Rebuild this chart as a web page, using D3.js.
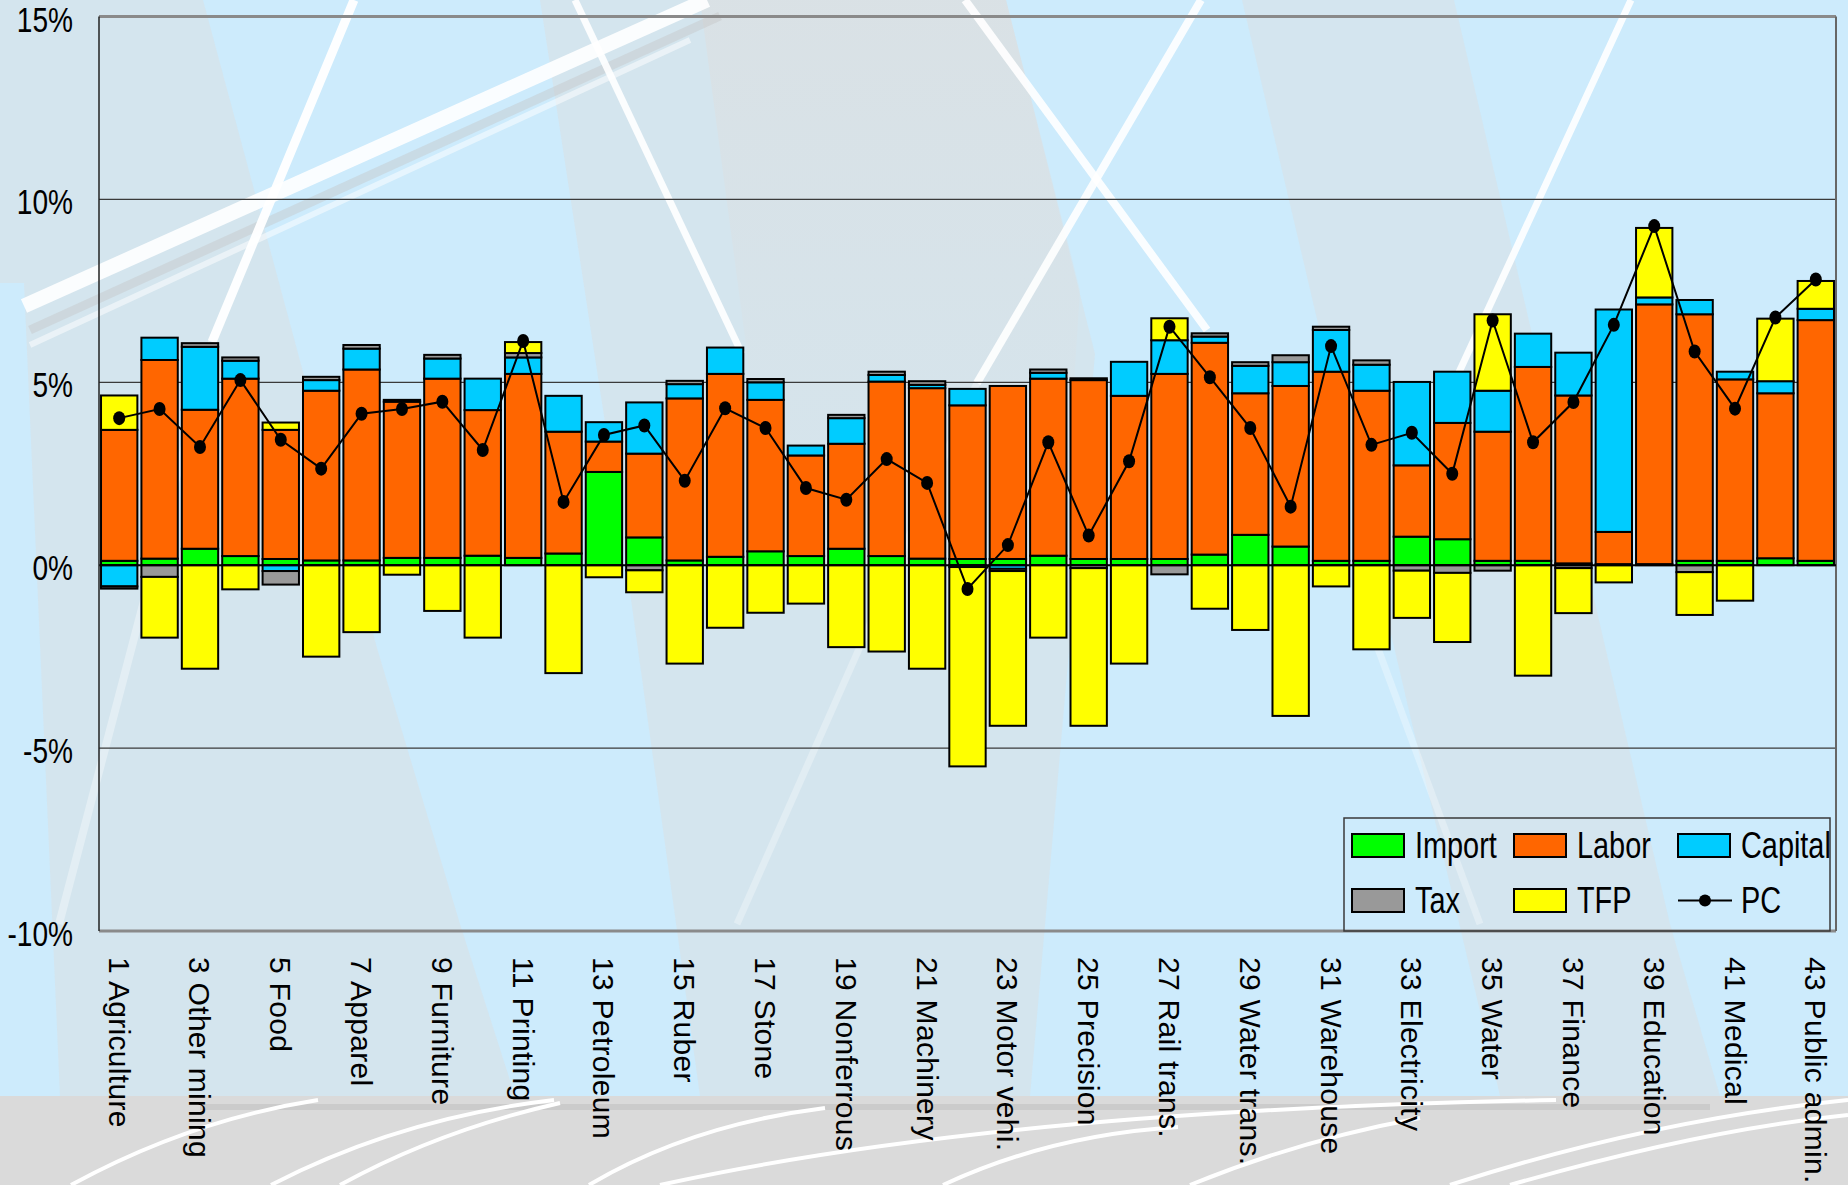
<!DOCTYPE html>
<html>
<head>
<meta charset="utf-8">
<script src="https://cdn.jsdelivr.net/npm/d3@7"></script>
<style>
  body { margin: 0; background: #cdebfc; }
  svg { display: block; }
</style>
</head>
<body>
<div id="chart"></div>
<script>
const width = 1848;
const height = 1185;
const plotLeft = 99;
const plotRight = 1836;
const plotTop = 16.5;
const plotBottom = 931;
const textFont = "'Liberation Sans', Arial, sans-serif";
const squeeze = 0.78; // the original uses a narrow face for axis and legend text

// industries 1..43, only the odd ones get a label
const sectors = [
  1, 2, 3, 4, 5, 6, 7, 8, 9, 10, 11, 12, 13, 14, 15, 16, 17, 18, 19, 20, 21, 22,
  23, 24, 25, 26, 27, 28, 29, 30, 31, 32, 33, 34, 35, 36, 37, 38, 39, 40, 41, 42, 43,
];
const tickSectors = [1, 3, 5, 7, 9, 11, 13, 15, 17, 19, 21, 23, 25, 27, 29, 31, 33, 35, 37, 39, 41, 43];
const tickLabels = [
  'Agriculture', 'Other mining', 'Food', 'Apparel', 'Furniture', 'Printing',
  'Petroleum', 'Ruber', 'Stone', 'Nonferrous', 'Machinery', 'Motor vehi.',
  'Precision', 'Rail trans.', 'Water trans.', 'Warehouse', 'Electricity',
  'Water', 'Finance', 'Education', 'Medical', 'Public admin.',
];

// contributions, % per year
const importValues = [
  0.12, 0.18, 0.45, 0.25, 0.17, 0.13, 0.13, 0.2, 0.2, 0.26, 0.2, 0.32, 2.55, 0.76,
  0.13, 0.23, 0.38, 0.25, 0.45, 0.25, 0.18, 0.17, 0.17, 0.26, 0.17, 0.17, 0.17, 0.29,
  0.83, 0.51, 0.12, 0.12, 0.78, 0.71, 0.12, 0.12, 0.05, 0.03, 0.03, 0.12, 0.12, 0.19, 0.12,
];
const laborValues = [
  3.58, 5.43, 3.8, 4.85, 3.53, 4.64, 5.22, 4.27, 4.9, 3.98, 5.03, 3.33, 0.83, 2.29,
  4.43, 5.0, 4.14, 2.75, 2.87, 4.77, 4.66, 4.2, 4.73, 4.84, 4.89, 4.46, 5.06, 5.79,
  3.87, 4.39, 5.17, 4.65, 1.95, 3.18, 3.53, 5.3, 4.59, 0.88, 7.1, 6.74, 4.96, 4.51, 6.58,
];
const capitalValues = [
  -0.58, 0.61, 1.72, 0.49, -0.16, 0.29, 0.57, 0, 0.55, 0.86, 0.45, 0.98, 0.53, 1.4,
  0.39, 0.72, 0.48, 0.27, 0.7, 0.18, 0.09, 0.45, -0.1, 0.16, 0.05, 0.93, 0.92, 0.17,
  0.75, 0.65, 1.14, 0.71, 2.28, 1.4, 1.12, 0.91, 1.17, 6.08, 0.19, 0.39, 0.21, 0.33, 0.31,
];
const taxValues = [
  -0.06, -0.32, 0.1, 0.09, -0.37, 0.09, 0.1, 0.05, 0.1, 0, 0.12, 0, 0, -0.14,
  0.09, 0, 0.09, 0, 0.09, 0.09, 0.1, -0.05, -0.06, 0.09, -0.08, 0, -0.25, 0.09,
  0.1, 0.19, 0.09, 0.12, -0.15, -0.21, -0.15, 0, -0.08, 0, 0, -0.19, 0, 0, 0,
];
const tfpValues = [
  0.94, -1.66, -2.83, -0.66, 0.2, -2.5, -1.83, -0.26, -1.25, -1.98, 0.3, -2.95, -0.33, -0.6,
  -2.69, -1.71, -1.3, -1.05, -2.24, -2.36, -2.83, -5.45, -4.23, -1.98, -4.31, -2.69, 0.6, -1.19,
  -1.77, -4.12, -0.58, -2.3, -1.29, -1.89, 2.09, -3.02, -1.23, -0.47, 1.9, -1.17, -0.97, 1.71, 0.76,
];
const pcValues = [
  4.02, 4.27, 3.23, 5.06, 3.43, 2.64, 4.14, 4.27, 4.47, 3.15, 6.13, 1.73, 3.56, 3.82,
  2.31, 4.29, 3.75, 2.11, 1.79, 2.9, 2.25, -0.65, 0.55, 3.36, 0.81, 2.84, 6.52, 5.14,
  3.75, 1.6, 5.99, 3.29, 3.62, 2.5, 6.69, 3.36, 4.46, 6.57, 9.27, 5.84, 4.28, 6.77, 7.81,
];

const keys = ['Import', 'Labor', 'Capital', 'Tax', 'TFP'];
const colors = ['#00ff00', '#ff6600', '#00ccff', '#999999', '#ffff00'];
const yTicks = [-10, -5, 0, 5, 10, 15];

const rows = sectors.map((s, i) => ({
  sector: s,
  Import: importValues[i],
  Labor: laborValues[i],
  Capital: capitalValues[i],
  Tax: taxValues[i],
  TFP: tfpValues[i],
  PC: pcValues[i],
}));

const svg = d3
  .select('#chart')
  .append('svg')
  .attr('width', width)
  .attr('height', height);

// Background decoration (slide template)
const defs = svg.append('defs');
const fadeDown = defs
  .append('linearGradient')
  .attr('id', 'fade-down')
  .attr('x1', '0%').attr('y1', '0%').attr('x2', '0%').attr('y2', '100%');
fadeDown.append('stop').attr('offset', '0%').attr('stop-color', '#dedede').attr('stop-opacity', 0.55);
fadeDown.append('stop').attr('offset', '100%').attr('stop-color', '#dedede').attr('stop-opacity', 0);

const bg = svg.append('g').attr('id', 'background');
bg.append('rect').attr('width', width).attr('height', height).attr('fill', '#cdebfc');

const grayShapes = [
  { pts: [[0, 0], [203, 0], [306, 383], [377, 648], [460, 924], [515, 1096], [60, 1096], [24, 283], [0, 283]], fill: 'rgba(222,222,222,0.45)' },
  { pts: [[540, 0], [1006, 0], [1095, 354], [1030, 1096], [700, 1096], [620, 520]], fill: 'rgba(222,222,222,0.45)' },
  { pts: [[700, 0], [1006, 0], [1080, 290], [1060, 600], [780, 600]], fill: 'url(#fade-down)' },
  { pts: [[1242, 0], [1454, 0], [1670, 924], [1720, 1096], [1500, 1096], [1430, 800]], fill: 'rgba(222,222,222,0.42)' },
];
bg.selectAll('path.shape')
  .data(grayShapes)
  .enter()
  .append('path')
  .attr('class', 'shape')
  .attr('d', (d) => d3.line()(d.pts) + 'Z')
  .attr('fill', (d) => d.fill);

const streaks = [
  { d: 'M707,0 L24,306', w: 15, o: 0.9 },
  { d: 'M720,16 L30,330', w: 9, o: 0.4, c: '#c4c4c4' },
  { d: 'M690,40 L30,345', w: 6, o: 0.5 },
  { d: 'M354,0 L212,342', w: 9, o: 0.95 },
  { d: 'M212,342 L59,924', w: 8, o: 0.35 },
  { d: 'M575,0 L742,354', w: 7, o: 0.9 },
  { d: 'M965,0 L1207,330', w: 8, o: 0.9 },
  { d: 'M1201,0 L977,383', w: 8, o: 0.9 },
  { d: 'M1631,0 L1454,383', w: 7, o: 0.9 },
  { d: 'M977,383 L737,924', w: 7, o: 0.3 },
  { d: 'M1360,600 L1480,924', w: 7, o: 0.3 },
];
bg.selectAll('path.streak')
  .data(streaks)
  .enter()
  .append('path')
  .attr('class', 'streak')
  .attr('d', (d) => d.d)
  .attr('stroke', (d) => d.c || '#ffffff')
  .attr('stroke-opacity', (d) => d.o)
  .attr('stroke-width', (d) => d.w)
  .attr('fill', 'none');

bg.append('rect').attr('x', 0).attr('y', 1096).attr('width', width).attr('height', height - 1096).attr('fill', '#dadada');
bg.append('rect').attr('x', 200).attr('y', 1104).attr('width', 1510).attr('height', 6).attr('fill', '#cbcbcb');
const bottomCurves = [
  'M71,1185 Q190,1120 318,1100',
  'M271,1185 Q400,1118 554,1100',
  'M340,1185 Q440,1130 560,1103',
  'M589,1185 Q690,1125 825,1108',
  'M660,1185 Q1000,1110 1556,1100',
  'M943,1185 Q1050,1135 1178,1127',
  'M1190,1185 Q1300,1140 1420,1118',
  'M1450,1185 Q1650,1120 1848,1100',
  'M1510,1185 Q1700,1130 1848,1115',
];
bg.selectAll('path.curve')
  .data(bottomCurves)
  .enter()
  .append('path')
  .attr('class', 'curve')
  .attr('d', (d) => d)
  .attr('stroke', '#ffffff')
  .attr('stroke-width', 4)
  .attr('fill', 'none');

// Scales
const xScale = d3
  .scaleBand()
  .domain(sectors)
  .range([plotLeft, plotRight])
  .paddingInner(0.1)
  .paddingOuter(0.05);
const yScale = d3.scaleLinear().domain([-10, 15]).range([plotBottom, plotTop]);

// Gridlines
svg
  .append('g')
  .attr('id', 'grid')
  .selectAll('line')
  .data(yTicks.filter((t) => t !== 0))
  .enter()
  .append('line')
  .attr('x1', plotLeft)
  .attr('x2', plotRight)
  .attr('y1', (d) => yScale(d))
  .attr('y2', (d) => yScale(d))
  .attr('stroke', (d) => (d === 15 || d === -10 ? '#8a8a8a' : '#3a3a3a'))
  .attr('stroke-width', (d) => (d === 15 || d === -10 ? 3 : 1.3));

svg
  .append('line')
  .attr('x1', plotRight)
  .attr('x2', plotRight)
  .attr('y1', plotTop)
  .attr('y2', plotBottom)
  .attr('stroke', '#666')
  .attr('stroke-width', 2);

// Stacked bars
const series = d3.stack().keys(keys).offset(d3.stackOffsetDiverging)(rows);
const bars = svg.append('g').attr('id', 'bars');
bars
  .selectAll('g')
  .data(series)
  .enter()
  .append('g')
  .attr('fill', (d, i) => colors[i])
  .selectAll('rect')
  .data((d) => d.filter((p) => p[1] !== p[0]))
  .enter()
  .append('rect')
  .attr('x', (d) => xScale(d.data.sector))
  .attr('y', (d) => yScale(d[1]))
  .attr('width', xScale.bandwidth())
  .attr('height', (d) => yScale(d[0]) - yScale(d[1]))
  .attr('stroke', '#000')
  .attr('stroke-width', 2);

// zero line
svg
  .append('line')
  .attr('x1', plotLeft)
  .attr('x2', plotRight)
  .attr('y1', yScale(0))
  .attr('y2', yScale(0))
  .attr('stroke', '#000')
  .attr('stroke-width', 2);

// Y axis
const yAxis = d3
  .axisLeft(yScale)
  .tickValues(yTicks)
  .tickFormat((d) => d + '%')
  .tickSize(0)
  .tickPadding(26);
svg
  .append('g')
  .attr('id', 'y-axis')
  .attr('transform', `translate(${plotLeft}, 0)`)
  .call(yAxis)
  .call((g) => g.select('.domain').remove())
  .selectAll('text')
  .attr('x', 0)
  .attr('transform', `translate(-26, 3) scale(${squeeze}, 1)`)
  .attr('font-family', textFont)
  .attr('font-size', 36)
  .attr('fill', '#000');

svg
  .append('line')
  .attr('x1', plotLeft)
  .attr('x2', plotLeft)
  .attr('y1', plotTop)
  .attr('y2', plotBottom)
  .attr('stroke', '#222')
  .attr('stroke-width', 1.5);

// X axis
const xAxis = d3
  .axisBottom(xScale)
  .tickValues(tickSectors)
  .tickFormat((d) => `${d} ${tickLabels[tickSectors.indexOf(d)]}`)
  .tickSize(0);
svg
  .append('g')
  .attr('id', 'x-axis')
  .attr('transform', `translate(0, ${plotBottom})`)
  .call(xAxis)
  .call((g) => g.select('.domain').remove())
  .selectAll('text')
  .attr('transform', 'rotate(90)')
  .attr('x', 26)
  .attr('y', 0)
  .attr('dy', '0.35em')
  .style('text-anchor', 'start')
  .attr('font-family', textFont)
  .attr('font-size', 30)
  .attr('letter-spacing', 0.3)
  .attr('fill', '#000');

// PC line
const pcLine = d3
  .line()
  .x((d) => xScale(d.sector) + xScale.bandwidth() / 2)
  .y((d) => yScale(d.PC));
svg
  .append('path')
  .datum(rows)
  .attr('d', pcLine)
  .attr('fill', 'none')
  .attr('stroke', '#000')
  .attr('stroke-width', 2);
svg
  .append('g')
  .attr('id', 'pc-dots')
  .selectAll('ellipse')
  .data(rows)
  .enter()
  .append('ellipse')
  .attr('cx', (d) => xScale(d.sector) + xScale.bandwidth() / 2)
  .attr('cy', (d) => yScale(d.PC))
  .attr('rx', 6)
  .attr('ry', 7)
  .attr('fill', '#000');

// Legend
const legend = svg.append('g').attr('id', 'legend');
legend
  .append('rect')
  .attr('x', 1344)
  .attr('y', 818)
  .attr('width', 486)
  .attr('height', 113)
  .attr('fill', 'none')
  .attr('stroke', '#3a3a3a')
  .attr('stroke-width', 1.5);

const legendItems = [
  { name: 'Import', color: colors[0], col: 0, row: 0 },
  { name: 'Labor', color: colors[1], col: 1, row: 0 },
  { name: 'Capital', color: colors[2], col: 2, row: 0 },
  { name: 'Tax', color: colors[3], col: 0, row: 1 },
  { name: 'TFP', color: colors[4], col: 1, row: 1 },
  { name: 'PC', color: null, col: 2, row: 1 },
];
const colX = [1352, 1514, 1678];
const rowY = [834, 889];
const item = legend
  .selectAll('g.item')
  .data(legendItems)
  .enter()
  .append('g')
  .attr('class', 'item')
  .attr('transform', (d) => `translate(${colX[d.col]}, ${rowY[d.row]})`);

item
  .filter((d) => d.color)
  .append('rect')
  .attr('width', 52)
  .attr('height', 23)
  .attr('fill', (d) => d.color)
  .attr('stroke', '#000')
  .attr('stroke-width', 2);

const pcItem = item.filter((d) => !d.color);
pcItem
  .append('line')
  .attr('x1', 0)
  .attr('x2', 54)
  .attr('y1', 11.5)
  .attr('y2', 11.5)
  .attr('stroke', '#000')
  .attr('stroke-width', 2);
pcItem.append('circle').attr('cx', 27).attr('cy', 11.5).attr('r', 6).attr('fill', '#000');

item
  .append('text')
  .attr('transform', `translate(63, 24) scale(${squeeze}, 1)`)
  .text((d) => d.name)
  .attr('font-family', textFont)
  .attr('font-size', 37)
  .attr('fill', '#000');
</script>
</body>
</html>
